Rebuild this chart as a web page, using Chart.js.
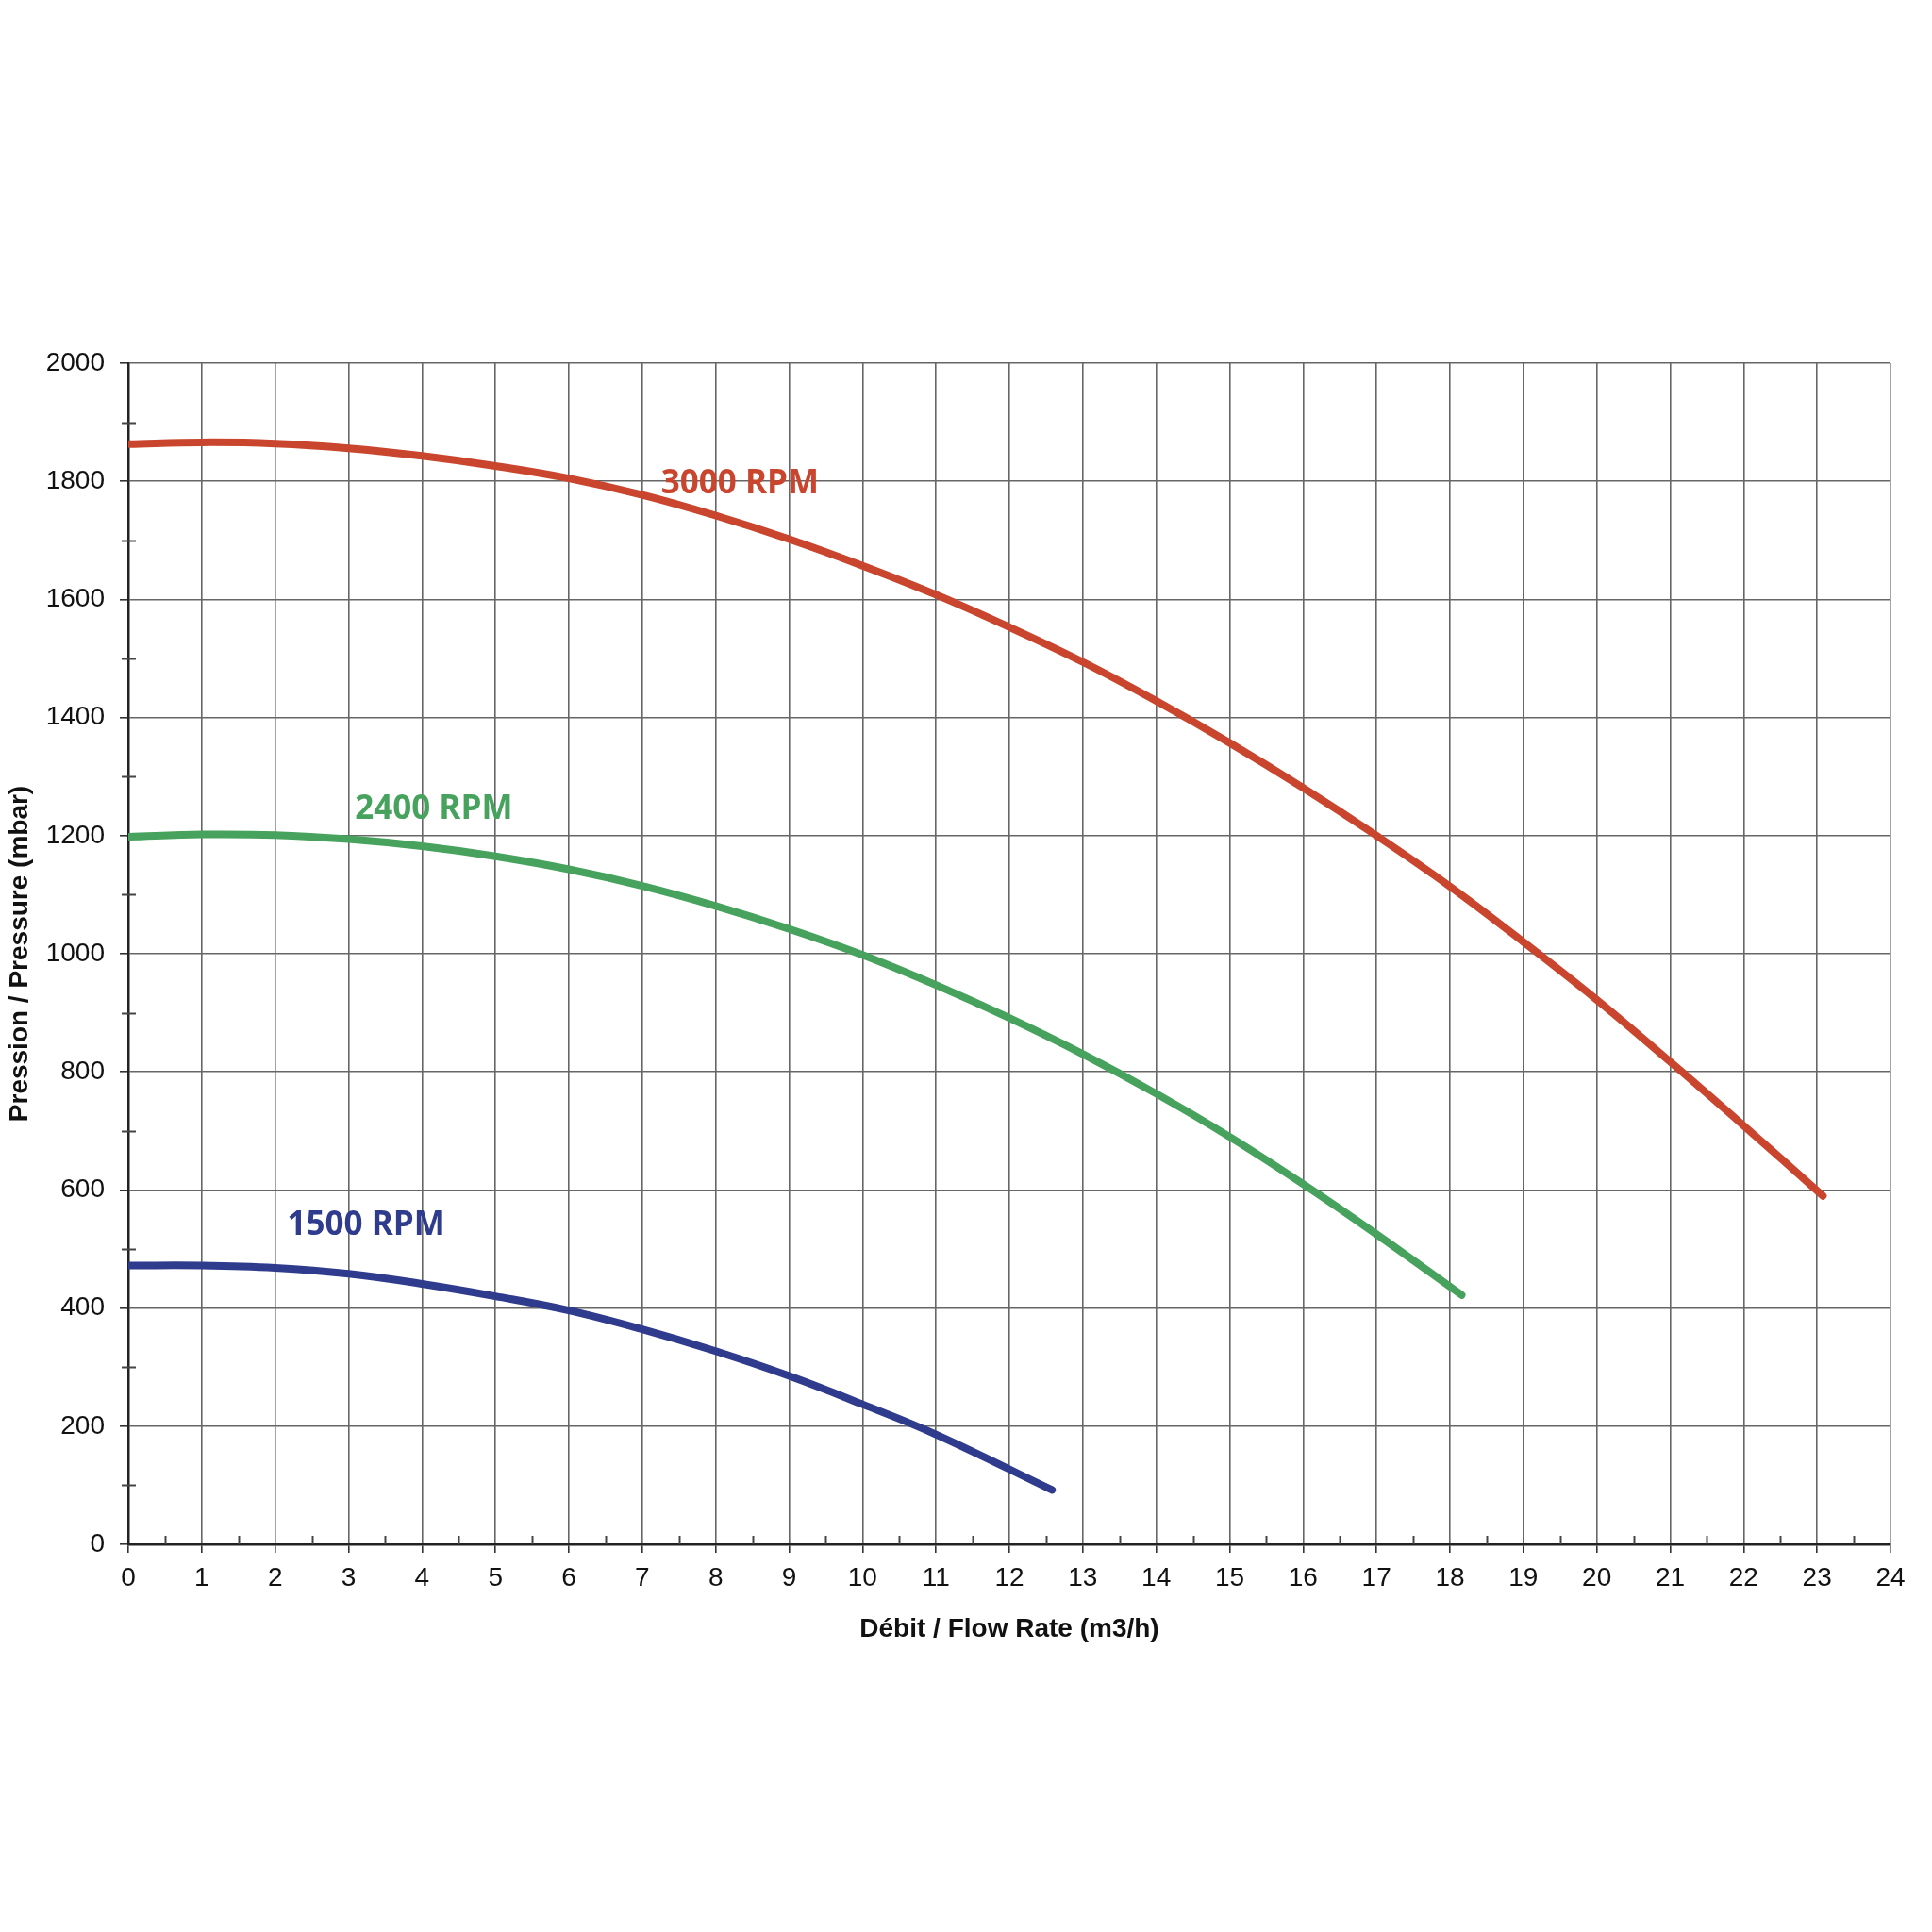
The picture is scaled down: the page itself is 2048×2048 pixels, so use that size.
<!DOCTYPE html>
<html>
<head>
    <title>Pression / Débit</title>
    <script src="https://cdn.jsdelivr.net/npm/chart.js"></script>
    <style>
        body { margin: 0; background: #fff; }
    </style>
</head>
<body>
    <canvas id="chart" width="2048" height="2048"></canvas>

    <script>
        // courbes (débit m3/h, pression mbar)
        var flow3000 = [0, 1, 2, 3, 4, 5, 6, 7, 8, 9, 10, 11, 12, 13, 14, 15, 16, 17, 18, 19, 20, 21, 22, 23.08];
        var press3000 = [1863, 1866, 1864, 1856, 1843, 1826, 1805, 1777, 1742, 1702, 1657, 1608, 1553, 1494, 1428, 1357, 1281, 1200, 1114, 1020, 922, 817, 709, 590];

        var flow2400 = [0, 1, 2, 3, 4, 5, 6, 7, 8, 9, 10, 11, 12, 13, 14, 15, 16, 17, 18.16];
        var press2400 = [1198, 1202, 1201, 1194, 1182, 1165, 1143, 1115, 1081, 1042, 998, 947, 891, 830, 763, 690, 610, 525, 422];

        var flow1500 = [0, 1, 2, 3, 4, 5, 6, 7, 8, 9, 10, 11, 12.58];
        var press1500 = [472, 472, 468, 458, 441, 420, 396, 364, 327, 285, 237, 186, 92];

        var seriesNames = ['3000 RPM', '2400 RPM', '1500 RPM'];
        var seriesColors = ['#c9452d', '#46a25c', '#2f3b8d'];

        // étiquettes des courbes, en coordonnées du graphique
        var labelFlow = [8.33, 4.16, 3.24];
        var labelPress = [1796, 1244, 540];

        function points(xs, ys) {
            return xs.map(function (x, i) { return { x: x, y: ys[i] }; });
        }

        function isMinorY(v) { return v % 200 !== 0; }
        function isMinorX(v) { return Math.abs(v - Math.round(v)) > 0.01; }

        // petites graduations intermédiaires + noms des courbes
        var extras = {
            id: 'extras',
            afterDatasetsDraw: function (chart) {
                var ctx = chart.ctx;
                var xs = chart.scales.x, ys = chart.scales.y;
                var x0 = xs.getPixelForValue(0), y0 = ys.getPixelForValue(0);
                ctx.save();
                ctx.strokeStyle = '#444';
                ctx.lineWidth = 2;
                for (var v = 100; v < 2000; v += 200) {
                    var py = Math.round(ys.getPixelForValue(v)) + 0.5;
                    ctx.beginPath();
                    ctx.moveTo(x0 - 7, py);
                    ctx.lineTo(x0 + 8, py);
                    ctx.stroke();
                }
                for (var f = 0.5; f < 24; f += 1) {
                    var px = Math.round(xs.getPixelForValue(f)) + 0.5;
                    ctx.beginPath();
                    ctx.moveTo(px, y0);
                    ctx.lineTo(px, y0 - 9);
                    ctx.stroke();
                }
                ctx.font = 'bold 35px "Open Sans"';
                ctx.textAlign = 'center';
                ctx.textBaseline = 'middle';
                seriesNames.forEach(function (name, i) {
                    ctx.fillStyle = seriesColors[i];
                    ctx.fillText(name, xs.getPixelForValue(labelFlow[i]), ys.getPixelForValue(labelPress[i]));
                });
                ctx.restore();
            }
        };

        var datasets = [
            points(flow3000, press3000),
            points(flow2400, press2400),
            points(flow1500, press1500)
        ].map(function (pts, i) {
            return {
                label: seriesNames[i],
                data: pts,
                borderColor: seriesColors[i],
                borderWidth: 8,
                borderCapStyle: 'round',
                borderJoinStyle: 'round',
                pointRadius: 0,
                fill: false,
                tension: 0.4
            };
        });

        var ctx = document.getElementById('chart').getContext('2d');
        new Chart(ctx, {
            type: 'line',
            data: { datasets: datasets },
            plugins: [extras],
            options: {
                responsive: false,
                animation: false,
                devicePixelRatio: 1,
                layout: { padding: { left: 0, top: 385, right: 44, bottom: 291 } },
                plugins: {
                    legend: { display: false },
                    tooltip: { enabled: false }
                },
                scales: {
                    x: {
                        type: 'linear',
                        min: 0,
                        max: 24,
                        afterFit: function (s) { s.height = 120; },
                        ticks: {
                            stepSize: 0.5,
                            autoSkip: false,
                            maxRotation: 0,
                            padding: 10,
                            color: '#111',
                            font: { family: '"Liberation Sans", Arial', size: 28 },
                            callback: function (v) { return isMinorX(v) ? '' : v; }
                        },
                        grid: {
                            lineWidth: 1.6,
                            color: function (c) { return isMinorX(c.tick.value) ? 'rgba(0,0,0,0)' : '#666'; },
                            tickColor: function (c) { return isMinorX(c.tick.value) ? 'rgba(0,0,0,0)' : '#333'; },
                            tickLength: 9
                        },
                        border: { color: '#222', width: 2.5 },
                        title: {
                            display: true,
                            text: 'Débit / Flow Rate (m3/h)',
                            color: '#111',
                            padding: { top: 0, bottom: 13 },
                            font: { family: '"Liberation Sans", Arial', size: 28, weight: 'bold' }
                        }
                    },
                    y: {
                        min: 0,
                        max: 2000,
                        afterFit: function (s) { s.width = 136; },
                        ticks: {
                            stepSize: 100,
                            padding: 16,
                            color: '#111',
                            font: { family: '"Liberation Sans", Arial', size: 28 },
                            callback: function (v) { return isMinorY(v) ? '' : v; }
                        },
                        grid: {
                            lineWidth: 1.6,
                            color: function (c) { return isMinorY(c.tick.value) ? 'rgba(0,0,0,0)' : '#666'; },
                            tickColor: function (c) { return isMinorY(c.tick.value) ? 'rgba(0,0,0,0)' : '#333'; },
                            tickLength: 9
                        },
                        border: { color: '#222', width: 2.5 },
                        title: {
                            display: true,
                            text: 'Pression / Pressure (mbar)',
                            color: '#111',
                            padding: { top: 4, bottom: 0 },
                            font: { family: '"Liberation Sans", Arial', size: 28, weight: 'bold' }
                        }
                    }
                }
            }
        });
    </script>
</body>
</html>
